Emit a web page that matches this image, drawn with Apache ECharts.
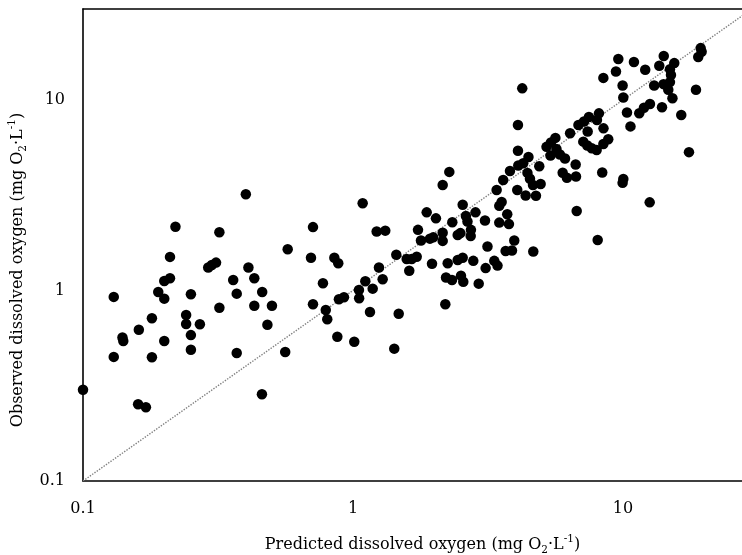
<!DOCTYPE html>
<html>
<head>
<meta charset="utf-8">
<script src="https://cdn.jsdelivr.net/npm/echarts@6/dist/echarts.min.js"></script>
<style>
html,body{margin:0;padding:0;background:#fff;}
#chart{width:742px;height:555px;}
</style>
</head>
<body>
<div id="chart"></div>
<script>
// Predicted (x) and observed (y) dissolved oxygen, mg O2/L
const predicted = [
0.100,0.130,0.130,0.140,0.141,0.160,0.171,0.161,0.180,0.180,
0.190,0.200,0.200,0.200,0.210,0.210,0.220,0.241,0.241,0.251,
0.251,0.251,0.271,0.291,0.300,0.311,0.320,0.320,0.360,0.371,
0.371,0.401,0.410,0.431,0.461,0.431,0.501,0.482,0.460,0.561,
0.573,0.699,0.711,0.711,0.774,0.793,0.803,0.853,0.882,0.875,
0.887,0.926,1.011,1.052,1.054,1.086,1.111,1.156,1.183,1.224,
1.317,1.248,1.288,1.422,1.447,1.477,1.581,1.650,1.722,1.616,
1.741,1.786,1.875,1.928,1.983,1.962,2.029,2.149,2.149,2.149,
2.198,2.211,2.327,2.243,2.274,2.333,2.443,2.549,2.443,2.50,
2.512,2.562,2.549,2.62,2.655,2.735,2.729,2.79,2.843,2.922,
3.083,3.10,3.149,3.337,3.43,3.405,3.482,3.553,3.482,3.782,
3.727,3.60,3.815,3.957,3.677,3.88,4.06,4.084,4.084,4.236,
4.095,4.272,4.467,4.361,4.761,4.429,4.524,4.642,4.956,4.654,
4.898,5.21,5.41,5.62,5.39,5.67,5.84,6.10,5.98,6.20,
6.70,6.68,6.37,6.84,7.17,7.48,8.01,8.15,7.40,8.47,
8.46,7.13,7.38,7.66,7.99,8.46,8.82,8.38,6.74,8.06,
9.42,9.61,9.97,10.03,10.35,10.66,10.03,9.97,10.98,12.09,
13.63,14.16,15.49,14.93,15.06,14.13,14.93,14.72,15.25,13.05,
18.64,11.49,11.96,12.59,13.95,16.44,17.56,12.56,19.40,19.56,
19.00
];
const observed = [
0.301,0.925,0.448,0.567,0.543,0.253,0.244,0.622,0.714,0.446,
0.982,1.12,0.906,0.543,1.50,1.16,2.16,0.743,0.667,0.955,
0.583,0.488,0.665,1.32,1.36,1.40,2.02,0.812,1.135,0.962,
0.470,3.20,1.32,1.16,0.982,0.832,0.832,0.661,0.285,0.475,
1.645,1.486,2.15,0.846,1.09,0.790,0.706,1.486,1.39,0.572,
0.899,0.921,0.538,1.006,0.910,2.87,1.118,0.771,1.022,2.04,
2.06,1.32,1.145,0.495,1.54,0.755,1.463,1.463,1.504,1.27,
2.08,1.83,2.57,1.87,1.90,1.38,2.39,3.58,2.01,1.82,
0.846,1.17,1.135,1.39,4.19,2.28,1.446,1.486,1.956,2.00,
1.196,1.112,2.82,2.46,2.30,2.08,1.93,1.43,2.57,1.086,
2.33,1.31,1.70,1.43,1.35,3.37,2.78,2.91,2.27,2.23,
2.51,3.80,4.24,1.83,1.61,1.62,3.37,5.41,7.39,11.5,
4.53,4.65,5.02,3.15,3.14,4.14,3.86,3.58,3.62,1.60,
4.49,5.67,5.98,6.32,5.11,5.53,5.17,4.93,4.15,3.90,
3.96,4.58,6.69,7.39,7.71,8.14,7.85,8.50,6.82,7.09,
13.05,6.04,5.76,5.58,5.46,5.87,6.22,4.16,2.61,1.84,
14.1,16.4,11.9,10.3,8.58,7.26,3.85,3.67,15.8,14.4,
15.1,17.0,15.6,14.5,13.5,12.1,12.4,11.3,10.2,11.9,
11.3,8.52,9.10,9.51,9.16,8.34,5.32,2.90,18.7,17.9,
16.8
];
const oneToOne = [[0.1, 0.1], [30, 30]];
const xRange = [0.1, 27.6];
const yRange = [0.1, 30];
const tickLabels = ['0.1', '1', '10'];

const points = predicted.map((p, i) => [p, observed[i]]);
const FONT = 'DejaVu Serif';
const FS = 16;
const rich = {
  a: {fontFamily: FONT, fontSize: FS, color: '#000', lineHeight: 22},
  b: {fontFamily: FONT, fontSize: 10.5, color: '#000', lineHeight: 11, verticalAlign: 'bottom'},
  c: {fontFamily: FONT, fontSize: 10.5, color: '#000', lineHeight: 11, verticalAlign: 'top'}
};
function tickFmt(v) {
  for (const t of tickLabels) {
    if (Math.abs(Math.log10(v) - Math.log10(parseFloat(t))) < 1e-6) return t;
  }
  return '';
}
const lineAxis = {lineStyle: {color: '#000', width: 1.6}};
const chart = echarts.init(document.getElementById('chart'), null, {renderer: 'canvas'});
chart.setOption({
  animation: false,
  backgroundColor: '#fff',
  grid: {left: 83, top: 9, width: 659, height: 472, containLabel: false, outerBoundsMode: 'none'},
  xAxis: [{
    type: 'log', logBase: 10, min: xRange[0], max: xRange[1],
    axisLine: lineAxis, axisTick: {show: false}, splitLine: {show: false},
    axisLabel: {formatter: tickFmt, fontFamily: FONT, fontSize: FS, color: '#000', margin: 20, showMaxLabel: false},
    name: '{a|Predicted dissolved oxygen (mg O}{b|2}{a|·L}{c|-1}{a|)}',
    nameLocation: 'middle', nameGap: 53,
    nameTextStyle: {rich: rich, padding: [0, 0, 0, 20]}
  }, {
    type: 'log', logBase: 10, min: xRange[0], max: xRange[1], position: 'top',
    axisLine: lineAxis, axisTick: {show: false}, axisLabel: {show: false}, splitLine: {show: false}
  }],
  yAxis: {
    type: 'log', logBase: 10, min: yRange[0], max: yRange[1],
    axisLine: lineAxis, axisTick: {show: false}, splitLine: {show: false},
    axisLabel: {formatter: tickFmt, fontFamily: FONT, fontSize: FS, color: '#000', margin: 18, showMaxLabel: false},
    name: '{a|Observed dissolved oxygen (mg O}{b|2}{a|·L}{c|-1}{a|)}',
    nameLocation: 'middle', nameGap: 46,
    nameTextStyle: {rich: rich, padding: [0, 50, 0, 0]}
  },
  series: [{
    type: 'line', data: oneToOne, symbol: 'none', silent: true, z: 1,
    lineStyle: {type: 'dotted', color: '#808080', width: 1.4}
  }, {
    type: 'scatter', data: points, symbol: 'circle', symbolSize: 10.5, z: 2,
    itemStyle: {color: '#000', opacity: 1}
  }]
});
</script>
</body>
</html>
